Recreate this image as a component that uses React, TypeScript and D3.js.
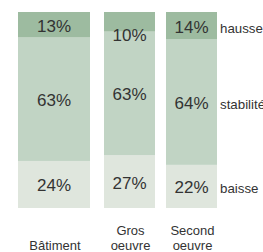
import React from "react";
import * as d3 from "d3";

const categories = ["Bâtiment", "Gros\noeuvre", "Second\noeuvre"];
const seriesKeys = ["baisse", "stabilité", "hausse"];
const baisse = [24, 27, 22];
const stabilite = [63, 63, 64];
const hausse = [13, 10, 14];

const colors: Record<string, string> = {
  "baisse": "#dfe6dd",
  "stabilité": "#c1d4c4",
  "hausse": "#9dbba0",
};

const W = 263;
const H = 252;
const barX = [18, 104, 166];
const barW = [72, 51, 51];

export default function App() {
  const rows = categories.map((c, i) => ({
    cat: c,
    "baisse": baisse[i],
    "stabilité": stabilite[i],
    "hausse": hausse[i],
  }));
  const stack = d3.stack<any>().keys(seriesKeys);
  const series = stack(rows);
  const y = d3.scaleLinear().domain([0, 100]).range([208, 12]);
  const xStart = d3.scaleOrdinal<string, number>().domain(categories).range(barX);
  const xWidth = d3.scaleOrdinal<string, number>().domain(categories).range(barW);
  const textColor = "#333333";
  const font = "'Liberation Sans', Arial, sans-serif";
  const last = categories.length - 1;

  const labelBaseline = (d: [number, number]) => {
    const top = y(d[1]);
    const bottom = y(d[0]);
    const h = bottom - top;
    if (h < 22) return top + h + 9;
    return (top + bottom) / 2 + 7;
  };

  return (
    <svg width={W} height={H} style={{ position: "absolute", left: 0, top: 0 }} fontFamily={font}>
      <rect x={0} y={0} width={W} height={H} fill="#ffffff" />
      {series.map((s) => (
        <g key={s.key}>
          {s.map((d, i) => {
            const c = categories[i];
            return (
              <rect
                key={c}
                x={xStart(c)}
                width={xWidth(c)}
                y={y(d[1])}
                height={y(d[0]) - y(d[1])}
                fill={colors[s.key]}
              />
            );
          })}
          {s.map((d, i) => {
            const c = categories[i];
            return (
              <text
                key={"t" + c}
                x={xStart(c) + xWidth(c) / 2}
                y={labelBaseline(d as any)}
                textAnchor="middle"
                fontSize={17}
                fill={textColor}
              >
                {(d[1] - d[0]) + "%"}
              </text>
            );
          })}
          <text
            x={220}
            y={labelBaseline(s[last] as any)}
            fontSize={13.3}
            fill={textColor}
          >
            {s.key}
          </text>
        </g>
      ))}
      {categories.map((c) => {
        const lines = c.split("\n");
        return (
          <text key={c} textAnchor="middle" fontSize={13} fill={textColor}>
            {lines.map((ln, j) => (
              <tspan key={j} x={xStart(c) + xWidth(c) / 2 + 1} y={249.5 - (lines.length - 1 - j) * 15}>
                {ln}
              </tspan>
            ))}
          </text>
        );
      })}
    </svg>
  );
}
